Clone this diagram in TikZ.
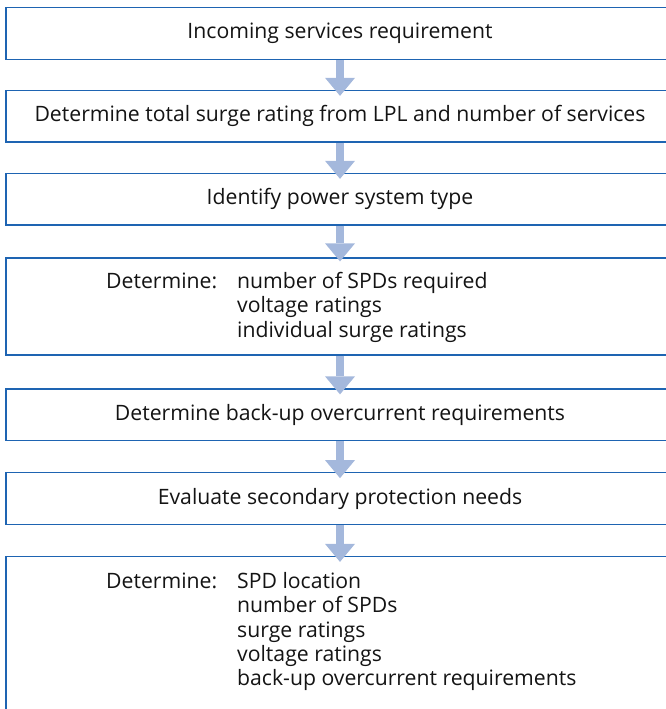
\documentclass[tikz,border=0pt]{standalone}
\usepackage{fontspec}
\setmainfont{Open Sans}
\usetikzlibrary{arrows.meta}

\definecolor{boxblue}{RGB}{30,100,178}
\definecolor{arrowblue}{RGB}{164,184,220}
\definecolor{textgrey}{RGB}{20,20,20}

\tikzset{
  stepbox/.style={draw=boxblue, line width=1.3pt, fill=white, minimum width=668pt, inner sep=0pt, text=textgrey},
  boxtext/.style={anchor=base west, inner sep=0pt, text=textgrey},
  flow/.style={draw=arrowblue, line width=8pt, -{Triangle[width=30pt, length=18pt, line width'=0pt]}}
}

\begin{document}
\begin{tikzpicture}[x=1pt, y=1pt, font=\fontsize{21.2}{24.3}\selectfont]
        \useasboundingbox (0,0) rectangle (666,-709);
        \clip (0,0) rectangle (666,-709);

        % Draw the steps of the procedure
        \node[stepbox, minimum height=52pt] (incoming) at (340,-33.5) {Incoming services requirement};
        \node[stepbox, minimum height=51.5pt] (total) at (340,-116.25) {Determine total surge rating from LPL and number of services};
        \node[stepbox, minimum height=51.5pt] (system) at (340,-199.25) {Identify power system type};
        \node[stepbox, minimum height=97pt] (spds) at (340,-306.5) {};
        \node[stepbox, minimum height=51.5pt] (backup) at (340,-414.75) {Determine back-up overcurrent requirements};
        \node[stepbox, minimum height=52pt] (secondary) at (340,-498.75) {Evaluate secondary protection needs};
        \node[stepbox, minimum height=158pt] (location) at (340,-635.5) {};

        % Texts of the two lists
        \node[boxtext] (spdsA) at (106,-288.5) {Determine:};
        \node[boxtext] (spdsB) at (237,-288.5) {\begin{tabular}[t]{@{}l@{}}number of SPDs required\\ voltage ratings\\ individual surge ratings\end{tabular}};
        \node[boxtext] (locationA) at (106,-588.5) {Determine:};
        \node[boxtext] (locationB) at (237,-588.5) {\begin{tabular}[t]{@{}l@{}}SPD location\\ number of SPDs\\ surge ratings\\ voltage ratings\\ back-up overcurrent requirements\end{tabular}};

        % Arrows between the steps
        \draw[flow] (incoming.south) -- ([yshift=-6pt]total.north);
        \draw[flow] (total.south) -- ([yshift=-6pt]system.north);
        \draw[flow] (system.south) -- ([yshift=-4pt]spds.north);
        \draw[flow] (spds.south) -- ([yshift=-6pt]backup.north);
        \draw[flow] (backup.south) -- ([yshift=-6pt]secondary.north);
        \draw[flow] (secondary.south) -- ([yshift=-6pt]location.north);
\end{tikzpicture}
\end{document}
